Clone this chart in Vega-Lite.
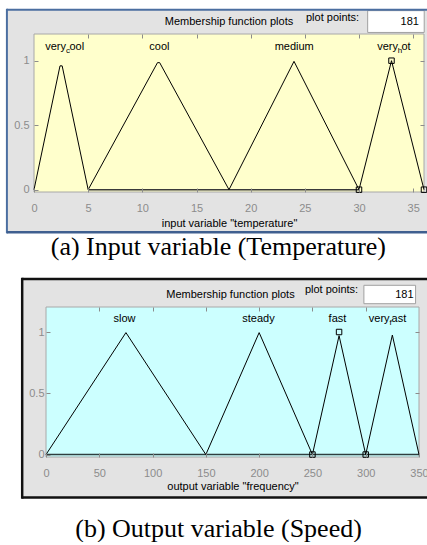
{
  "$schema": "https://vega.github.io/schema/vega-lite/v6.json",
  "background": "white",
  "padding": {"left": 5, "top": 8, "right": 0, "bottom": 0},
  "spacing": 16,
  "datasets": {
    "one": [{}],
    "t_mf": [
      {"mf": "very_cool", "x": 0, "y": 0}, {"mf": "very_cool", "x": 2.4, "y": 0.96}, {"mf": "very_cool", "x": 2.6, "y": 0.96}, {"mf": "very_cool", "x": 5, "y": 0},
      {"mf": "cool", "x": 5, "y": 0}, {"mf": "cool", "x": 11.4, "y": 0.985}, {"mf": "cool", "x": 11.6, "y": 0.985}, {"mf": "cool", "x": 18, "y": 0},
      {"mf": "medium", "x": 18, "y": 0}, {"mf": "medium", "x": 24, "y": 0.995}, {"mf": "medium", "x": 30, "y": 0},
      {"mf": "very_hot", "x": 30, "y": 0}, {"mf": "very_hot", "x": 33, "y": 1}, {"mf": "very_hot", "x": 36, "y": 0}
    ],
    "t_base": [{"x": 5, "y": 0}, {"x": 30, "y": 0}],
    "t_sq": [{"x": 30, "y": 0}, {"x": 33, "y": 1}, {"x": 36, "y": 0}],
    "t_lab": [
      {"name": "very_cool", "pre": "very", "sub": "c", "post": "ool", "x": 3.13},
      {"name": "cool", "x": 11.58},
      {"name": "medium", "x": 24.02},
      {"name": "very_hot", "pre": "very", "sub": "h", "post": "ot", "x": 33.78}
    ],
    "f_mf": [
      {"mf": "slow", "x": 0, "y": 0}, {"mf": "slow", "x": 75, "y": 0.995}, {"mf": "slow", "x": 150, "y": 0},
      {"mf": "steady", "x": 150, "y": 0}, {"mf": "steady", "x": 200, "y": 0.995}, {"mf": "steady", "x": 250, "y": 0},
      {"mf": "fast", "x": 250, "y": 0}, {"mf": "fast", "x": 275, "y": 0.97}, {"mf": "fast", "x": 300, "y": 0},
      {"mf": "very_fast", "x": 300, "y": 0}, {"mf": "very_fast", "x": 325, "y": 0.975}, {"mf": "very_fast", "x": 350, "y": 0}
    ],
    "f_base": [{"x": 0, "y": 0}, {"x": 350, "y": 0}],
    "f_sq": [{"x": 250, "y": 0}, {"x": 275, "y": 1}, {"x": 300, "y": 0}],
    "f_lab": [
      {"name": "slow", "x": 73.7},
      {"name": "steady", "x": 199.4},
      {"name": "fast", "x": 273.5},
      {"name": "very_fast", "pre": "very", "sub": "f", "post": "ast", "x": 323.3}
    ]
  },
  "vconcat": [
    {
      "width": 390,
      "height": 158,
      "resolve": {"axis": {"x": "independent", "y": "independent"}},
      "layer": [
        {"data": {"name": "one"}, "mark": {"type": "rect", "fill": "#e3e3e3"},
         "encoding": {"x": {"datum": -2.41, "type": "quantitative", "scale": {"domain": [0, 36], "nice": false, "zero": false}, "axis": null}, "x2": {"datum": 36.3},
                      "y": {"datum": -0.331, "type": "quantitative", "scale": {"domain": [-0.018, 1.207], "nice": false, "zero": false}, "axis": null}, "y2": {"datum": 1.395}}},
        {"data": {"name": "one"}, "mark": {"type": "rect", "fill": "#ffffcc", "stroke": "#a8a8a8", "strokeWidth": 1},
         "encoding": {"x": {"datum": 0, "type": "quantitative", "scale": {"domain": [0, 36], "nice": false, "zero": false}, "axis": null}, "x2": {"datum": 36},
                      "y": {"datum": -0.018, "type": "quantitative", "scale": {"domain": [-0.018, 1.207], "nice": false, "zero": false}, "axis": null}, "y2": {"datum": 1.207}}},
        {"data": {"name": "one"}, "mark": {"type": "rect", "fill": "white", "stroke": "#a0a0a0", "strokeWidth": 1},
         "encoding": {"x": {"datum": 30.8, "type": "quantitative", "scale": {"domain": [0, 36], "nice": false, "zero": false}, "axis": null}, "x2": {"datum": 36.02},
                      "y": {"datum": 1.219, "type": "quantitative", "scale": {"domain": [-0.018, 1.207], "nice": false, "zero": false}, "axis": null}, "y2": {"datum": 1.388}}},
        {"data": {"name": "one"}, "mark": {"type": "rule", "color": "#4b6ea0", "strokeWidth": 2, "strokeCap": "square"},
         "encoding": {"x": {"datum": -2.5, "type": "quantitative", "scale": {"domain": [0, 36], "nice": false, "zero": false}, "axis": null},
                      "y": {"datum": -0.331, "type": "quantitative", "scale": {"domain": [-0.018, 1.207], "nice": false, "zero": false}, "axis": null}, "y2": {"datum": 1.395}}},
        {"data": {"name": "one"}, "mark": {"type": "rule", "color": "#4b6ea0", "strokeWidth": 2},
         "encoding": {"x": {"datum": -2.5, "type": "quantitative", "scale": {"domain": [0, 36], "nice": false, "zero": false}, "axis": null}, "x2": {"datum": 36.3},
                      "y": {"datum": 1.395, "type": "quantitative", "scale": {"domain": [-0.018, 1.207], "nice": false, "zero": false}, "axis": null}}},
        {"data": {"name": "one"}, "mark": {"type": "rule", "color": "#3f5f8f", "strokeWidth": 2.5},
         "encoding": {"x": {"datum": -2.5, "type": "quantitative", "scale": {"domain": [0, 36], "nice": false, "zero": false}, "axis": null}, "x2": {"datum": 36.3},
                      "y": {"datum": -0.331, "type": "quantitative", "scale": {"domain": [-0.018, 1.207], "nice": false, "zero": false}, "axis": null}}},
        {"data": {"name": "one"}, "mark": {"type": "text", "text": "Membership function plots", "font": "Liberation Sans", "fontSize": 11, "color": "black", "baseline": "middle", "align": "center"},
         "encoding": {"x": {"datum": 18, "type": "quantitative", "scale": {"domain": [0, 36], "nice": false, "zero": false}, "axis": null},
                      "y": {"datum": 1.297, "type": "quantitative", "scale": {"domain": [-0.018, 1.207], "nice": false, "zero": false}, "axis": null}}},
        {"data": {"name": "one"}, "mark": {"type": "text", "text": "plot points:", "font": "Liberation Sans", "fontSize": 11, "color": "black", "baseline": "middle", "align": "center"},
         "encoding": {"x": {"datum": 27.56, "type": "quantitative", "scale": {"domain": [0, 36], "nice": false, "zero": false}, "axis": null},
                      "y": {"datum": 1.333, "type": "quantitative", "scale": {"domain": [-0.018, 1.207], "nice": false, "zero": false}, "axis": null}}},
        {"data": {"name": "one"}, "mark": {"type": "text", "text": "181", "font": "Liberation Sans", "fontSize": 11, "color": "black", "baseline": "middle", "align": "right"},
         "encoding": {"x": {"datum": 35.53, "type": "quantitative", "scale": {"domain": [0, 36], "nice": false, "zero": false}, "axis": null},
                      "y": {"datum": 1.302, "type": "quantitative", "scale": {"domain": [-0.018, 1.207], "nice": false, "zero": false}, "axis": null}}},
        {"data": {"name": "one"}, "mark": {"type": "text", "text": "(a) Input variable (Temperature)", "font": "Liberation Serif", "fontSize": 26, "color": "black", "baseline": "middle", "align": "center"},
         "encoding": {"x": {"datum": 17.02, "type": "quantitative", "scale": {"domain": [0, 36], "nice": false, "zero": false}, "axis": null},
                      "y": {"datum": -0.447, "type": "quantitative", "scale": {"domain": [-0.018, 1.207], "nice": false, "zero": false}, "axis": null}}},
        {"data": {"name": "t_base"},
         "mark": {"type": "line", "color": "#3a3a3a", "strokeWidth": 1.6},
         "encoding": {"x": {"field": "x", "type": "quantitative", "scale": {"domain": [0, 36], "nice": false, "zero": false}, "axis": null},
                      "y": {"field": "y", "type": "quantitative", "scale": {"domain": [-0.018, 1.207], "nice": false, "zero": false}, "axis": null}}},
        {"data": {"name": "t_mf"},
         "mark": {"type": "line", "color": "black", "strokeWidth": 1},
         "encoding": {"detail": {"field": "mf"},
                      "x": {"field": "x", "type": "quantitative", "scale": {"domain": [0, 36], "nice": false, "zero": false},
                            "axis": {"values": [0, 5, 10, 15, 20, 25, 30, 35], "format": "d", "title": "input variable \"temperature\"", "labelPadding": 14, "titlePadding": 4, "zindex": 2}},
                      "y": {"field": "y", "type": "quantitative", "scale": {"domain": [-0.018, 1.207], "nice": false, "zero": false},
                            "axis": {"values": [0, 0.5, 1], "format": "~g", "title": null, "labelPadding": 9, "zindex": 2}}}},
        {"data": {"name": "t_sq"},
         "mark": {"type": "point", "shape": "square", "filled": false, "stroke": "black", "strokeWidth": 1, "size": 30, "opacity": 1},
         "encoding": {"x": {"field": "x", "type": "quantitative", "scale": {"domain": [0, 36], "nice": false, "zero": false},
                            "axis": {"orient": "top", "values": [5, 10, 15, 20, 25, 30, 35], "labels": false, "title": null, "zindex": 2}},
                      "y": {"field": "y", "type": "quantitative", "scale": {"domain": [-0.018, 1.207], "nice": false, "zero": false},
                            "axis": {"orient": "right", "values": [0.5, 1], "labels": false, "title": null, "zindex": 2}}}},
        {"data": {"name": "t_lab"}, "transform": [{"filter": "!datum.sub"}],
         "mark": {"type": "text", "font": "Liberation Sans", "fontSize": 11, "color": "black", "baseline": "middle", "align": "center"},
         "encoding": {"x": {"field": "x", "type": "quantitative", "scale": {"domain": [0, 36], "nice": false, "zero": false}, "axis": null},
                      "y": {"datum": 1.103, "type": "quantitative", "scale": {"domain": [-0.018, 1.207], "nice": false, "zero": false}, "axis": null},
                      "text": {"field": "name"}}},
        {"data": {"name": "t_lab"}, "transform": [{"filter": "datum.sub"}],
         "mark": {"type": "text", "font": "Liberation Sans", "fontSize": 11, "color": "black", "baseline": "middle", "align": "right", "dx": -2},
         "encoding": {"x": {"field": "x", "type": "quantitative", "scale": {"domain": [0, 36], "nice": false, "zero": false}, "axis": null},
                      "y": {"datum": 1.103, "type": "quantitative", "scale": {"domain": [-0.018, 1.207], "nice": false, "zero": false}, "axis": null},
                      "text": {"field": "pre"}}},
        {"data": {"name": "t_lab"}, "transform": [{"filter": "datum.sub"}],
         "mark": {"type": "text", "font": "Liberation Sans", "fontSize": 8, "color": "black", "baseline": "middle", "align": "center", "dy": 4},
         "encoding": {"x": {"field": "x", "type": "quantitative", "scale": {"domain": [0, 36], "nice": false, "zero": false}, "axis": null},
                      "y": {"datum": 1.103, "type": "quantitative", "scale": {"domain": [-0.018, 1.207], "nice": false, "zero": false}, "axis": null},
                      "text": {"field": "sub"}}},
        {"data": {"name": "t_lab"}, "transform": [{"filter": "datum.sub"}],
         "mark": {"type": "text", "font": "Liberation Sans", "fontSize": 11, "color": "black", "baseline": "middle", "align": "left", "dx": 1.5},
         "encoding": {"x": {"field": "x", "type": "quantitative", "scale": {"domain": [0, 36], "nice": false, "zero": false}, "axis": null},
                      "y": {"datum": 1.103, "type": "quantitative", "scale": {"domain": [-0.018, 1.207], "nice": false, "zero": false}, "axis": null},
                      "text": {"field": "post"}}}
      ]
    },
    {
      "width": 385,
      "height": 150,
      "resolve": {"axis": {"x": "independent", "y": "independent"}},
      "layer": [
        {"data": {"name": "one"}, "mark": {"type": "rect", "fill": "#e3e3e3"},
         "encoding": {"x": {"datum": -21.1, "type": "quantitative", "scale": {"domain": [0, 350], "range": [12, 385], "nice": false, "zero": false}, "axis": null}, "x2": {"datum": 357.7},
                      "y": {"datum": -0.3505, "type": "quantitative", "scale": {"domain": [-0.02, 1.204], "nice": false, "zero": false}, "axis": null}, "y2": {"datum": 1.4325}}},
        {"data": {"name": "one"}, "mark": {"type": "rect", "fill": "#ccffff", "stroke": "#a8a8a8", "strokeWidth": 1},
         "encoding": {"x": {"datum": 0, "type": "quantitative", "scale": {"domain": [0, 350], "range": [12, 385], "nice": false, "zero": false}, "axis": null}, "x2": {"datum": 350},
                      "y": {"datum": -0.02, "type": "quantitative", "scale": {"domain": [-0.02, 1.204], "nice": false, "zero": false}, "axis": null}, "y2": {"datum": 1.204}}},
        {"data": {"name": "one"}, "mark": {"type": "rect", "fill": "white", "stroke": "#a0a0a0", "strokeWidth": 1},
         "encoding": {"x": {"datum": 298.3, "type": "quantitative", "scale": {"domain": [0, 350], "range": [12, 385], "nice": false, "zero": false}, "axis": null}, "x2": {"datum": 346.8},
                      "y": {"datum": 1.231, "type": "quantitative", "scale": {"domain": [-0.02, 1.204], "nice": false, "zero": false}, "axis": null}, "y2": {"datum": 1.381}}},
        {"data": {"name": "one"}, "mark": {"type": "rule", "color": "#111111", "strokeWidth": 2.5, "strokeCap": "square"},
         "encoding": {"x": {"datum": -22.33, "type": "quantitative", "scale": {"domain": [0, 350], "range": [12, 385], "nice": false, "zero": false}, "axis": null},
                      "y": {"datum": -0.3505, "type": "quantitative", "scale": {"domain": [-0.02, 1.204], "nice": false, "zero": false}, "axis": null}, "y2": {"datum": 1.4325}}},
        {"data": {"name": "one"}, "mark": {"type": "rule", "color": "#111111", "strokeWidth": 2.5},
         "encoding": {"x": {"datum": -22.33, "type": "quantitative", "scale": {"domain": [0, 350], "range": [12, 385], "nice": false, "zero": false}, "axis": null}, "x2": {"datum": 357.7},
                      "y": {"datum": 1.4325, "type": "quantitative", "scale": {"domain": [-0.02, 1.204], "nice": false, "zero": false}, "axis": null}}},
        {"data": {"name": "one"}, "mark": {"type": "rule", "color": "#111111", "strokeWidth": 2.5},
         "encoding": {"x": {"datum": -22.33, "type": "quantitative", "scale": {"domain": [0, 350], "range": [12, 385], "nice": false, "zero": false}, "axis": null}, "x2": {"datum": 357.7},
                      "y": {"datum": -0.3505, "type": "quantitative", "scale": {"domain": [-0.02, 1.204], "nice": false, "zero": false}, "axis": null}}},
        {"data": {"name": "one"}, "mark": {"type": "text", "text": "Membership function plots", "font": "Liberation Sans", "fontSize": 11, "color": "black", "baseline": "middle", "align": "center"},
         "encoding": {"x": {"datum": 173.1, "type": "quantitative", "scale": {"domain": [0, 350], "range": [12, 385], "nice": false, "zero": false}, "axis": null},
                      "y": {"datum": 1.2995, "type": "quantitative", "scale": {"domain": [-0.02, 1.204], "nice": false, "zero": false}, "axis": null}}},
        {"data": {"name": "one"}, "mark": {"type": "text", "text": "plot points:", "font": "Liberation Sans", "fontSize": 11, "color": "black", "baseline": "middle", "align": "center"},
         "encoding": {"x": {"datum": 267.9, "type": "quantitative", "scale": {"domain": [0, 350], "range": [12, 385], "nice": false, "zero": false}, "axis": null},
                      "y": {"datum": 1.34, "type": "quantitative", "scale": {"domain": [-0.02, 1.204], "nice": false, "zero": false}, "axis": null}}},
        {"data": {"name": "one"}, "mark": {"type": "text", "text": "181", "font": "Liberation Sans", "fontSize": 11, "color": "black", "baseline": "middle", "align": "right"},
         "encoding": {"x": {"datum": 344.9, "type": "quantitative", "scale": {"domain": [0, 350], "range": [12, 385], "nice": false, "zero": false}, "axis": null},
                      "y": {"datum": 1.304, "type": "quantitative", "scale": {"domain": [-0.02, 1.204], "nice": false, "zero": false}, "axis": null}}},
        {"data": {"name": "one"}, "mark": {"type": "text", "text": "(b)  Output variable (Speed)", "font": "Liberation Serif", "fontSize": 26, "color": "black", "baseline": "middle", "align": "center"},
         "encoding": {"x": {"datum": 161.9, "type": "quantitative", "scale": {"domain": [0, 350], "range": [12, 385], "nice": false, "zero": false}, "axis": null},
                      "y": {"datum": -0.605, "type": "quantitative", "scale": {"domain": [-0.02, 1.204], "nice": false, "zero": false}, "axis": null}}},
        {"data": {"name": "f_base"},
         "mark": {"type": "line", "color": "#2f3f3f", "strokeWidth": 1.6},
         "encoding": {"x": {"field": "x", "type": "quantitative", "scale": {"domain": [0, 350], "range": [12, 385], "nice": false, "zero": false}, "axis": null},
                      "y": {"field": "y", "type": "quantitative", "scale": {"domain": [-0.02, 1.204], "nice": false, "zero": false}, "axis": null}}},
        {"data": {"name": "f_mf"},
         "mark": {"type": "line", "color": "black", "strokeWidth": 1},
         "encoding": {"detail": {"field": "mf"},
                      "x": {"field": "x", "type": "quantitative", "scale": {"domain": [0, 350], "range": [12, 385], "nice": false, "zero": false},
                            "axis": {"values": [0, 50, 100, 150, 200, 250, 300, 350], "format": "d", "title": "output variable \"frequency\"", "labelPadding": 14, "titlePadding": 2, "zindex": 2}},
                      "y": {"field": "y", "type": "quantitative", "scale": {"domain": [-0.02, 1.204], "nice": false, "zero": false},
                            "axis": {"values": [0, 0.5, 1], "format": "~g", "title": null, "labelPadding": 6, "offset": -12, "zindex": 2}}}},
        {"data": {"name": "f_sq"},
         "mark": {"type": "point", "shape": "square", "filled": false, "stroke": "black", "strokeWidth": 1, "size": 30, "opacity": 1},
         "encoding": {"x": {"field": "x", "type": "quantitative", "scale": {"domain": [0, 350], "range": [12, 385], "nice": false, "zero": false},
                            "axis": {"orient": "top", "values": [50, 100, 150, 200, 250, 300], "labels": false, "title": null, "zindex": 2}},
                      "y": {"field": "y", "type": "quantitative", "scale": {"domain": [-0.02, 1.204], "nice": false, "zero": false},
                            "axis": {"orient": "right", "values": [0.5, 1], "labels": false, "title": null, "zindex": 2}}}},
        {"data": {"name": "f_lab"}, "transform": [{"filter": "!datum.sub"}],
         "mark": {"type": "text", "font": "Liberation Sans", "fontSize": 11, "color": "black", "baseline": "middle", "align": "center"},
         "encoding": {"x": {"field": "x", "type": "quantitative", "scale": {"domain": [0, 350], "range": [12, 385], "nice": false, "zero": false}, "axis": null},
                      "y": {"datum": 1.108, "type": "quantitative", "scale": {"domain": [-0.02, 1.204], "nice": false, "zero": false}, "axis": null},
                      "text": {"field": "name"}}},
        {"data": {"name": "f_lab"}, "transform": [{"filter": "datum.sub"}],
         "mark": {"type": "text", "font": "Liberation Sans", "fontSize": 11, "color": "black", "baseline": "middle", "align": "right", "dx": -1},
         "encoding": {"x": {"field": "x", "type": "quantitative", "scale": {"domain": [0, 350], "range": [12, 385], "nice": false, "zero": false}, "axis": null},
                      "y": {"datum": 1.108, "type": "quantitative", "scale": {"domain": [-0.02, 1.204], "nice": false, "zero": false}, "axis": null},
                      "text": {"field": "pre"}}},
        {"data": {"name": "f_lab"}, "transform": [{"filter": "datum.sub"}],
         "mark": {"type": "text", "font": "Liberation Sans", "fontSize": 8, "color": "black", "baseline": "middle", "align": "center", "dy": 4},
         "encoding": {"x": {"field": "x", "type": "quantitative", "scale": {"domain": [0, 350], "range": [12, 385], "nice": false, "zero": false}, "axis": null},
                      "y": {"datum": 1.108, "type": "quantitative", "scale": {"domain": [-0.02, 1.204], "nice": false, "zero": false}, "axis": null},
                      "text": {"field": "sub"}}},
        {"data": {"name": "f_lab"}, "transform": [{"filter": "datum.sub"}],
         "mark": {"type": "text", "font": "Liberation Sans", "fontSize": 11, "color": "black", "baseline": "middle", "align": "left", "dx": 1},
         "encoding": {"x": {"field": "x", "type": "quantitative", "scale": {"domain": [0, 350], "range": [12, 385], "nice": false, "zero": false}, "axis": null},
                      "y": {"datum": 1.108, "type": "quantitative", "scale": {"domain": [-0.02, 1.204], "nice": false, "zero": false}, "axis": null},
                      "text": {"field": "post"}}}
      ]
    }
  ],
  "config": {
    "view": {"stroke": null},
    "axis": {
      "labelFont": "Liberation Sans", "labelFontSize": 11, "labelColor": "#8c8c8c",
      "titleFont": "Liberation Sans", "titleFontSize": 11, "titleFontWeight": "normal", "titleColor": "black",
      "tickColor": "#8c8c8c", "tickSize": -4, "tickWidth": 1, "domain": false, "grid": false,
      "labelOverlap": false, "labelFlush": false
    }
  }
}
